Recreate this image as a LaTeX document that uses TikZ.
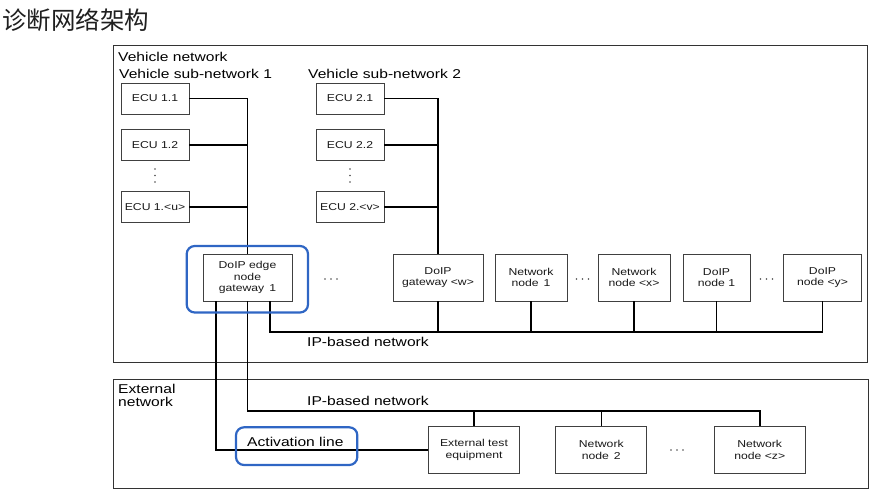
\documentclass[tikz,border=0pt]{standalone}
\usepackage{fontspec}
\setmainfont{Liberation Sans}[FakeStretch=1.22]
\newfontfamily\cjk{Noto Sans CJK SC}
\usetikzlibrary{calc}
\definecolor{cadre}{RGB}{47,102,196}
\tikzset{
    boite/.style={draw=black!75, line width=0.9pt, fill=white, align=center, inner sep=1pt,
                  text=black!90, font=\fontsize{10}{11.5}\selectfont},
    ecu/.style={boite, minimum width=68pt, minimum height=31pt},
    noeud/.style={boite, minimum height=47pt},
    liaison/.style={line width=1.6pt, black},
    reseau/.style={draw=black!80, line width=1pt},
    surligne/.style={draw=cadre, line width=2.2pt, rounded corners=8pt},
    titre/.style={anchor=base west, inner sep=0pt, text=black, font=\fontsize{12.8}{12.8}\selectfont},
    point/.style={fill=black!70},
}
\begin{document}
\begin{tikzpicture}[x=1pt,y=-1pt]
  \useasboundingbox (0,0) rectangle (879,497);
  %titre
  \node[anchor=base west, inner sep=0pt, text=black!88, font=\cjk\fontsize{24.5}{24.5}\selectfont] (titre) at (2,29.5) {诊断网络架构};

  %reseaux
  \draw[reseau] (113,46) rectangle (867,362);
  \draw[reseau] (113,379.5) rectangle (868,488);
  \node[titre] (vn) at (118,61.5) {Vehicle network};
  \node[titre] (sn1) at (119,78.3) {Vehicle sub-network 1};
  \node[titre] (sn2) at (308,78.3) {Vehicle sub-network 2};
  \node[titre] (ipv) at (307,346) {IP-based network};
  \node[titre, anchor=north west, align=left, font=\fontsize{12.8}{12.3}\selectfont] (en) at (118,384.5) {External\\network};
  \node[titre] (ipe) at (307,405) {IP-based network};
  \node[titre] (act) at (247,446.7) {Activation line};

  %sous-reseau 1
  \node[ecu] (e11) at (155,98.5) {ECU 1.1};
  \node[ecu] (e12) at (155,145) {ECU 1.2};
  \node[ecu] (e1u) at (155,207) {ECU 1.<u>};
  %sous-reseau 2
  \node[ecu] (e21) at (350,98.5) {ECU 2.1};
  \node[ecu] (e22) at (350,145) {ECU 2.2};
  \node[ecu] (e2v) at (350,207) {ECU 2.<v>};
  \foreach \y in {169,175.5,182}{
    \fill[point] (155,\y) circle (0.9);
    \fill[point] (350,\y) circle (0.9);
  }

  \node[noeud, minimum width=89pt] (gw1) at (247.5,277.5) {DoIP edge\\node\\gateway\enspace 1};
  \node[noeud, minimum width=90pt] (gww) at (438,277.5) {DoIP\\gateway <w>};
  \node[noeud, minimum width=72pt] (nn1) at (531,277.5) {Network\\node\enspace 1};
  \node[noeud, minimum width=72pt] (nnx) at (634,277.5) {Network\\node <x>};
  \node[noeud, minimum width=67pt] (dn1) at (716.5,277.5) {DoIP\\node 1};
  \node[noeud, minimum width=78pt] (dny) at (822.5,277.5) {DoIP\\node <y>};

  \node[noeud, minimum width=91pt] (ete) at (474,449.7) {External test\\equipment};
  \node[noeud, minimum width=91pt] (nn2) at (601.3,449.7) {Network\\node\enspace 2};
  \node[noeud, minimum width=91pt] (nnz) at (759.7,449.7) {Network\\node <z>};
  %points de suspension
  \foreach \x/\y in {331/279,582.5/279,766.5/279,677/450}{
    \fill[point] (\x-6,\y) circle (0.8);
    \fill[point] (\x,\y) circle (0.8);
    \fill[point] (\x+6,\y) circle (0.8);
  }

  %liaisons
  \coordinate (busv) at (0,332);
  \coordinate (buse) at (0,411);
  \draw[liaison] (e11.east) -| (gw1.north);
  \draw[liaison] (e12.east) -- (e12.east -| gw1.north);
  \draw[liaison] (e1u.east) -- (e1u.east -| gw1.north);
  \draw[liaison] (e21.east) -| (gww.north);
  \draw[liaison] (e22.east) -- (e22.east -| gww.north);
  \draw[liaison] (e2v.east) -- (e2v.east -| gww.north);
  \draw[liaison] ($(gw1.south)+(22.5,0)$) |- (busv -| dny.south) -- (dny.south);
  \foreach \n in {gww,nn1,nnx,dn1}
    \draw[liaison] (\n.south) -- (busv -| \n.south);
  \draw[liaison] (gw1.south) |- (buse -| nnz.north) -- (nnz.north);
  \draw[liaison] (ete.north) -- (buse -| ete.north);
  \draw[liaison] (nn2.north) -- (buse -| nn2.north);
  \draw[liaison] ($(gw1.south)+(-31.5,0)$) |- (ete.west);

  %cadres bleus
  \draw[surligne] (186.7,246) rectangle (308,312.5);
  \draw[surligne] (236,427.3) rectangle (357.3,465);
\end{tikzpicture}
\end{document}
